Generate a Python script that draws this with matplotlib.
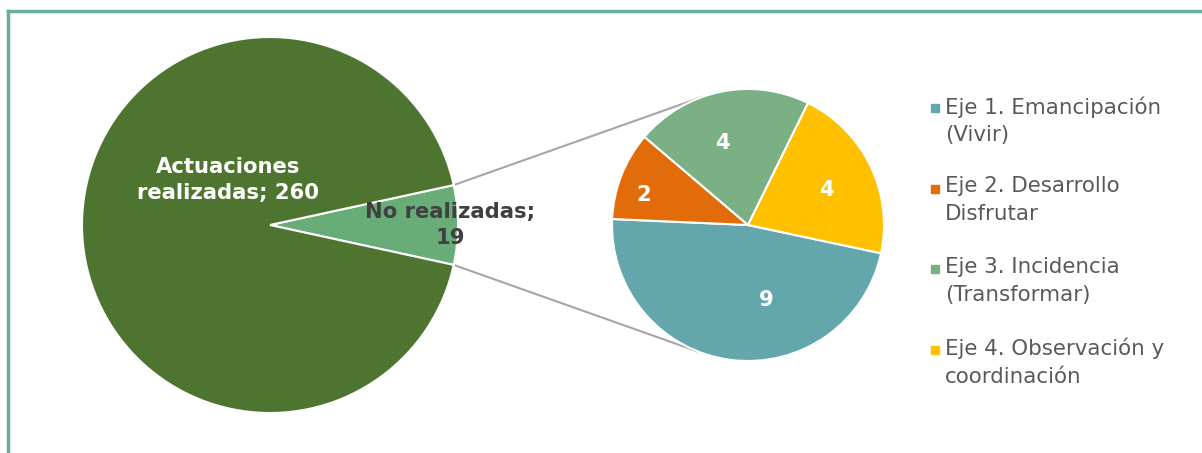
import numpy as np
import matplotlib
matplotlib.use("Agg")
import matplotlib.pyplot as plt

# --- DANE ---
main_labels = ["No realizadas;\n19", "Actuaciones\nrealizadas; 260"]
main_values = [19, 260]

eje_labels = ["Eje 1. Emancipación\n(Vivir)", "Eje 2. Desarrollo\nDisfrutar",
              "Eje 3. Incidencia\n(Transformar)", "Eje 4. Observación y\ncoordinación"]
eje_values = [9, 2, 4, 4]

main_colors = ["#68AD78", "#4E7530"]
eje_colors = ["#63A7AD", "#E36C0A", "#7BAF84", "#FFC000"]

W, H = 1202, 453
fig = plt.figure(figsize=(W / 100, H / 100), dpi=100)
ax = fig.add_axes([0, 0, 1, 1])

# geometria w pikselach (y liczone od dolu)
c1, r1 = (270, H - 225), 188
c2, r2 = (748, H - 225), 136
edge = dict(edgecolor="white", linewidth=1.5)

# maly wycinek wysrodkowany na prawo
small_angle = 360 * main_values[0] / sum(main_values)
w1, _ = ax.pie(main_values, colors=main_colors, center=c1, radius=r1,
               startangle=-small_angle / 2, wedgeprops=edge)

w2, _ = ax.pie(eje_values, colors=eje_colors, center=c2, radius=r2,
               startangle=-12, counterclock=False, wedgeprops=edge)

# etykiety duzego wykresu
ax.text(c1[0] + 180, c1[1], main_labels[0], color="#404040", fontsize=15.2,
        fontweight="bold", ha="center", va="center", linespacing=1.4)
ax.text(c1[0] - 42, c1[1] + 45, main_labels[1], color="white", fontsize=15.2,
        fontweight="bold", ha="center", va="center", linespacing=1.4)

# etykiety malego wykresu
dists = [0.57, 0.8, 0.63, 0.63]
shifts = [21, 5.5, 6, -2]  # przesuniecie katowe jak w oryginale
for w, v, d, s in zip(w2, eje_values, dists, shifts):
    mid = np.deg2rad((w.theta1 + w.theta2) / 2 + s)
    ax.text(c2[0] + d * r2 * np.cos(mid), c2[1] + d * r2 * np.sin(mid), str(v),
            color="white", fontsize=15.2, fontweight="bold", ha="center", va="center")

# linie laczace - styczne do malego kola
half = np.deg2rad(small_angle / 2)
for sgn in (1, -1):
    p = np.array([c1[0] + r1 * np.cos(half), c1[1] + sgn * r1 * np.sin(half)])
    c = np.array(c2, dtype=float)
    d = np.linalg.norm(c - p)
    base = np.arctan2(p[1] - c[1], p[0] - c[0])
    t = base - sgn * np.arccos(r2 / d)
    q = c + r2 * np.array([np.cos(t), np.sin(t)])
    ax.plot([p[0], q[0]], [p[1], q[1]], color="#A6A6A6", linewidth=1.5, zorder=0)

# legenda (recznie, kwadrat przy pierwszej linii)
for i, (lab, col) in enumerate(zip(eje_labels, eje_colors)):
    y = H - (108 + 80.5 * i)
    ax.plot(935, y, marker="s", markersize=6, color=col, linestyle="none")
    ax.text(945, y + 12, lab, fontsize=15.4, color="#595959", ha="left", va="top",
            linespacing=1.5)

ax.set_xlim(0, W)
ax.set_ylim(0, H)
ax.set_aspect("equal")
ax.axis("off")

# ramka
ax.plot([8, W], [H - 11, H - 11], color="#67ADA0", linewidth=2.5, clip_on=False)
ax.plot([8, 8], [0, H - 11], color="#67ADA0", linewidth=2.5, clip_on=False)

fig.savefig("out.png", dpi=100)
